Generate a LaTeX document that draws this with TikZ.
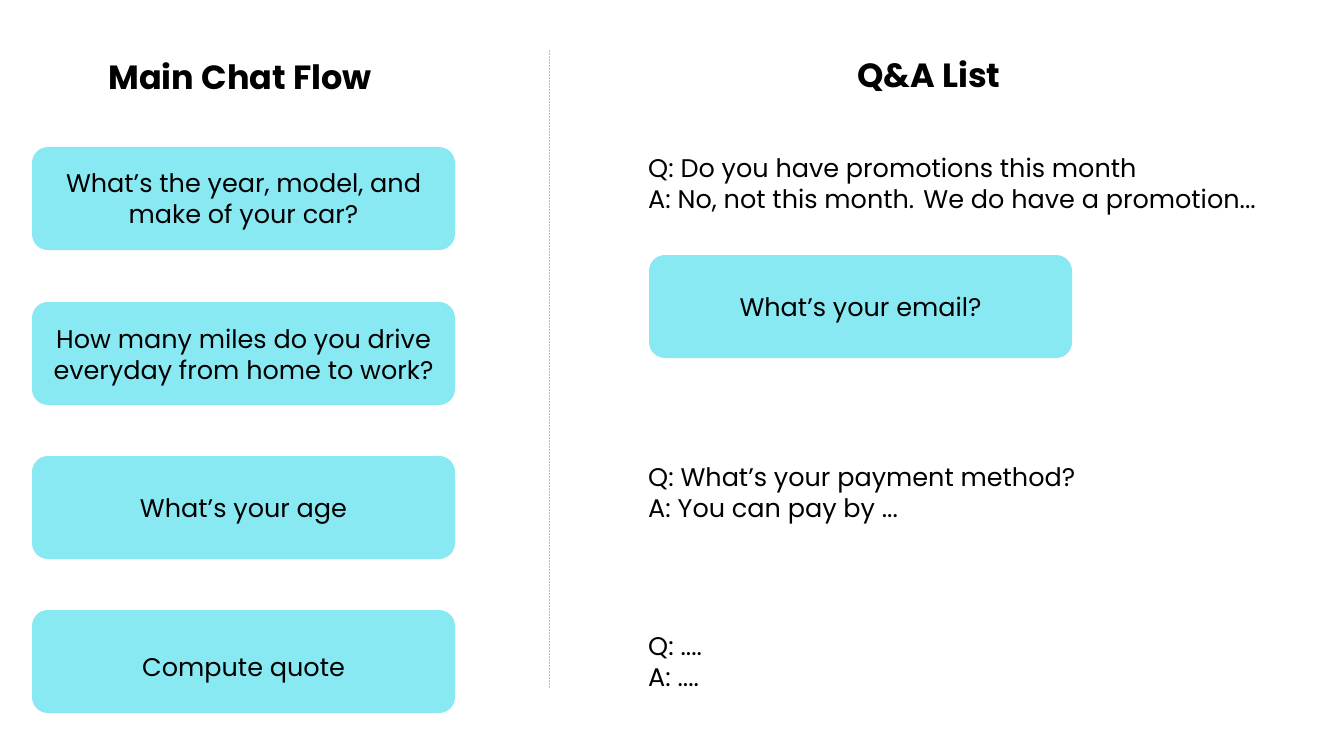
\documentclass[tikz,border=0pt]{standalone}
\usepackage{fontspec}
\setmainfont{Poppins}
\definecolor{boxcyan}{HTML}{89E9F3}
\definecolor{divgray}{HTML}{BBBBBB}
\begin{document}
\begin{tikzpicture}[x=1pt,y=-1pt,
  bubble/.style={fill=boxcyan, rounded corners=16pt, minimum width=423pt, minimum height=103pt, inner sep=0pt},
  btext/.style={align=center, inner sep=0pt, font=\fontsize{25.5}{31}\selectfont, text=black},
  title/.style={font=\fontsize{33.5}{38}\selectfont\bfseries, anchor=center},
  qa/.style={anchor=west, align=left, font=\fontsize{25.5}{31}\selectfont, inner sep=0pt}]
\useasboundingbox (0,0) rectangle (1337,738);
\node[title] (t1) at (240,76) {Main Chat Flow};
\node[title] (t2) at (929,76) {Q\&A List};
\coordinate (ltop) at (549,50);
\coordinate (lbot) at (549,688);
\draw[divgray, dash pattern=on 2pt off 1pt, line width=0.8pt] (ltop) -- (lbot);
\node[bubble] (b1) at (243.5,198.5) {};
\node[btext] (b1t) at (243.5,201.5) {What’s the year, model, and\\make of your car?};
\node[bubble] (b2) at (243.5,353.5) {};
\node[btext] (b2t) at (243.5,357.5) {How many miles do you drive\\everyday from home to work?};
\node[bubble] (b3) at (243.5,507.5) {};
\node[btext] (b3t) at (243.5,511.5) {What’s your age};
\node[bubble] (b4) at (243.5,661.5) {};
\node[btext] (b4t) at (243.5,670.5) {Compute quote};
\node[bubble] (b5) at (860.5,306.5) {};
\node[btext] (b5t) at (860.5,310.5) {What’s your email?};
\node[qa] (q1) at (648,186.5) {Q: Do you have promotions this month\\A: No, not this month. We do have a promotion...};
\node[qa] (q2) at (648,496) {Q: What’s your payment method?\\A: You can pay by ...};
\node[qa] (q3) at (648,662.5) {Q: ....\\A: ....};
\end{tikzpicture}
\end{document}
